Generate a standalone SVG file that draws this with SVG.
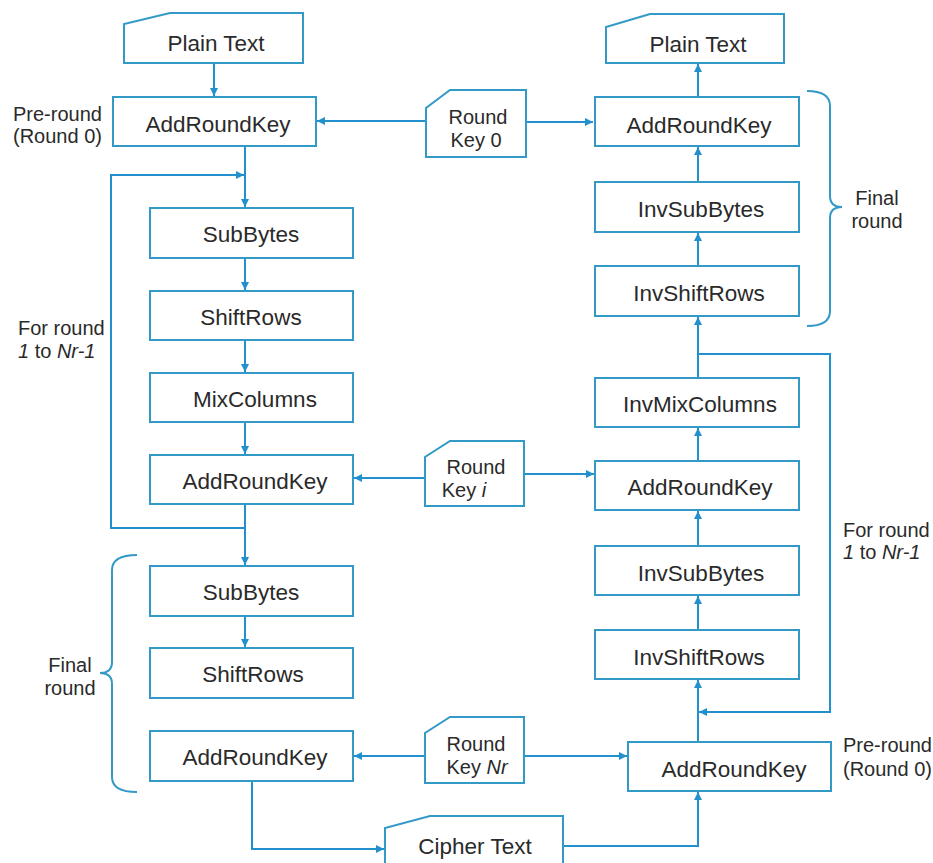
<svg xmlns="http://www.w3.org/2000/svg" width="933" height="863" viewBox="0 0 933 863">
<defs>
<style>
.box{fill:#ffffff;stroke:#3399c6;stroke-width:2}
.t{font-family:"Liberation Sans",Arial,sans-serif;font-size:22.5px;fill:#2a2a2a;text-anchor:middle}
.l{font-family:"Liberation Sans",Arial,sans-serif;font-size:20px;fill:#2a2a2a}
.c{text-anchor:middle}
.e{fill:none;stroke:#2190cc;stroke-width:2}
.br{fill:none;stroke:#3399c6;stroke-width:2}
</style>
<marker id="ah" viewBox="0 0 10 10" refX="10" refY="5" markerWidth="9" markerHeight="8" markerUnits="userSpaceOnUse" orient="auto">
<path d="M0,0 L10,5 L0,10 z" fill="#2190cc"/>
</marker>
</defs>
<rect width="933" height="863" fill="#ffffff"/>

<g id="connectors">
<path class="e" d="M214,63 V96" marker-end="url(#ah)"/>
<path class="e" d="M426,121 H317" marker-end="url(#ah)"/>
<path class="e" d="M526,122 H593" marker-end="url(#ah)"/>
<path class="e" d="M245,146 V207" marker-end="url(#ah)"/>
<path class="e" d="M245,528 H111 V175 H244" marker-end="url(#ah)"/>
<path class="e" d="M245,258 V290" marker-end="url(#ah)"/>
<path class="e" d="M245,340 V372" marker-end="url(#ah)"/>
<path class="e" d="M245,422 V454" marker-end="url(#ah)"/>
<path class="e" d="M245,504 V565" marker-end="url(#ah)"/>
<path class="e" d="M245,616 V647" marker-end="url(#ah)"/>
<path class="e" d="M425,478 H354" marker-end="url(#ah)"/>
<path class="e" d="M524,474 H594" marker-end="url(#ah)"/>
<path class="e" d="M425,756 H354" marker-end="url(#ah)"/>
<path class="e" d="M524,756 H627" marker-end="url(#ah)"/>
<path class="e" d="M252,781 V849 H384" marker-end="url(#ah)"/>
<path class="e" d="M563,846 H698 V792" marker-end="url(#ah)"/>
<path class="e" d="M698,742 V680" marker-end="url(#ah)"/>
<path class="e" d="M698,354 H830 V712 H699" marker-end="url(#ah)"/>
<path class="e" d="M698,630 V596" marker-end="url(#ah)"/>
<path class="e" d="M698,546 V511" marker-end="url(#ah)"/>
<path class="e" d="M698,461 V428" marker-end="url(#ah)"/>
<path class="e" d="M698,378 V317" marker-end="url(#ah)"/>
<path class="e" d="M698,266 V233" marker-end="url(#ah)"/>
<path class="e" d="M698,182 V147" marker-end="url(#ah)"/>
<path class="e" d="M698,97 V64" marker-end="url(#ah)"/>
</g>

<g id="plain-text-enc">
<path class="box" d="M124,63 V24 L170,13 H303 V63 Z"/>
<text class="t" x="216" y="51">Plain Text</text>
</g>
<g id="plain-text-dec">
<path class="box" d="M606,63 V27 L650,14 H784 V63 Z"/>
<text class="t" x="698" y="52">Plain Text</text>
</g>

<g id="enc-addroundkey-0">
<rect class="box" x="113" y="97" width="203" height="49"/>
<text class="t" x="218" y="132">AddRoundKey</text>
</g>
<g id="round-key-0">
<path class="box" d="M426,157 V108 L450,90 H526 V157 Z"/>
<text class="l c" x="478" y="124">Round</text>
<text class="l c" x="476" y="147">Key 0</text>
</g>
<g id="dec-addroundkey-final">
<rect class="box" x="595" y="97" width="204" height="49"/>
<text class="t" x="699" y="133">AddRoundKey</text>
</g>

<g id="enc-subbytes">
<rect class="box" x="150" y="208" width="203" height="50"/>
<text class="t" x="251" y="242">SubBytes</text>
</g>
<g id="enc-shiftrows">
<rect class="box" x="150" y="291" width="203" height="49"/>
<text class="t" x="251" y="325">ShiftRows</text>
</g>
<g id="enc-mixcolumns">
<rect class="box" x="150" y="373" width="203" height="49"/>
<text class="t" x="255" y="407">MixColumns</text>
</g>
<g id="enc-addroundkey-i">
<rect class="box" x="150" y="455" width="203" height="49"/>
<text class="t" x="255" y="489">AddRoundKey</text>
</g>
<g id="round-key-i">
<path class="box" d="M425,506 V457 L450,441 H524 V506 Z"/>
<text class="l c" x="476" y="474">Round</text>
<text class="l c" x="464" y="497">Key <tspan font-style="italic">i</tspan></text>
</g>

<g id="enc-subbytes-final">
<rect class="box" x="150" y="566" width="203" height="50"/>
<text class="t" x="251" y="600">SubBytes</text>
</g>
<g id="enc-shiftrows-final">
<rect class="box" x="150" y="648" width="203" height="50"/>
<text class="t" x="253" y="682">ShiftRows</text>
</g>
<g id="enc-addroundkey-final">
<rect class="box" x="150" y="731" width="203" height="50"/>
<text class="t" x="255" y="765">AddRoundKey</text>
</g>
<g id="round-key-nr">
<path class="box" d="M425,783 V733 L450,717 H524 V783 Z"/>
<text class="l c" x="476" y="751">Round</text>
<text class="l c" x="477" y="774">Key <tspan font-style="italic">Nr</tspan></text>
</g>
<g id="cipher-text">
<path class="box" d="M385,875 V828 L430,816 H563 V875 Z"/>
<text class="t" x="475" y="854">Cipher Text</text>
</g>

<g id="dec-invsubbytes-final">
<rect class="box" x="595" y="182" width="204" height="50"/>
<text class="t" x="701" y="217">InvSubBytes</text>
</g>
<g id="dec-invshiftrows-final">
<rect class="box" x="595" y="266" width="204" height="50"/>
<text class="t" x="699" y="301">InvShiftRows</text>
</g>
<g id="dec-invmixcolumns">
<rect class="box" x="595" y="378" width="204" height="49"/>
<text class="t" x="700" y="412">InvMixColumns</text>
</g>
<g id="dec-addroundkey-i">
<rect class="box" x="595" y="461" width="204" height="49"/>
<text class="t" x="700" y="495">AddRoundKey</text>
</g>
<g id="dec-invsubbytes">
<rect class="box" x="595" y="546" width="204" height="49"/>
<text class="t" x="701" y="581">InvSubBytes</text>
</g>
<g id="dec-invshiftrows">
<rect class="box" x="595" y="630" width="204" height="49"/>
<text class="t" x="699" y="665">InvShiftRows</text>
</g>
<g id="dec-addroundkey-0">
<rect class="box" x="628" y="742" width="203" height="49"/>
<text class="t" x="734" y="777">AddRoundKey</text>
</g>

<g id="labels">
<text class="l" x="13" y="121">Pre-round</text>
<text class="l" x="13" y="143">(Round 0)</text>
<text class="l" x="18" y="335">For round</text>
<text class="l" x="18" y="358"><tspan font-style="italic">1</tspan> to <tspan font-style="italic">Nr-1</tspan></text>
<text class="l c" x="70" y="672">Final</text>
<text class="l c" x="70" y="695">round</text>
<text class="l c" x="877" y="205">Final</text>
<text class="l c" x="877" y="228">round</text>
<text class="l" x="843" y="537">For round</text>
<text class="l" x="843" y="559"><tspan font-style="italic">1</tspan> to <tspan font-style="italic">Nr-1</tspan></text>
<text class="l" x="843" y="752">Pre-round</text>
<text class="l" x="843" y="776">(Round 0)</text>
</g>

<g id="braces">
<path class="br" d="M807,91 Q830,91 830,106 V196 Q830,207 842,207 Q830,207 830,218 V311 Q830,326 807,326"/>
<path class="br" d="M137,555 Q112,555 112,570 V662 Q112,673 100,673 Q112,673 112,684 V777 Q112,792 137,792"/>
</g>
</svg>
